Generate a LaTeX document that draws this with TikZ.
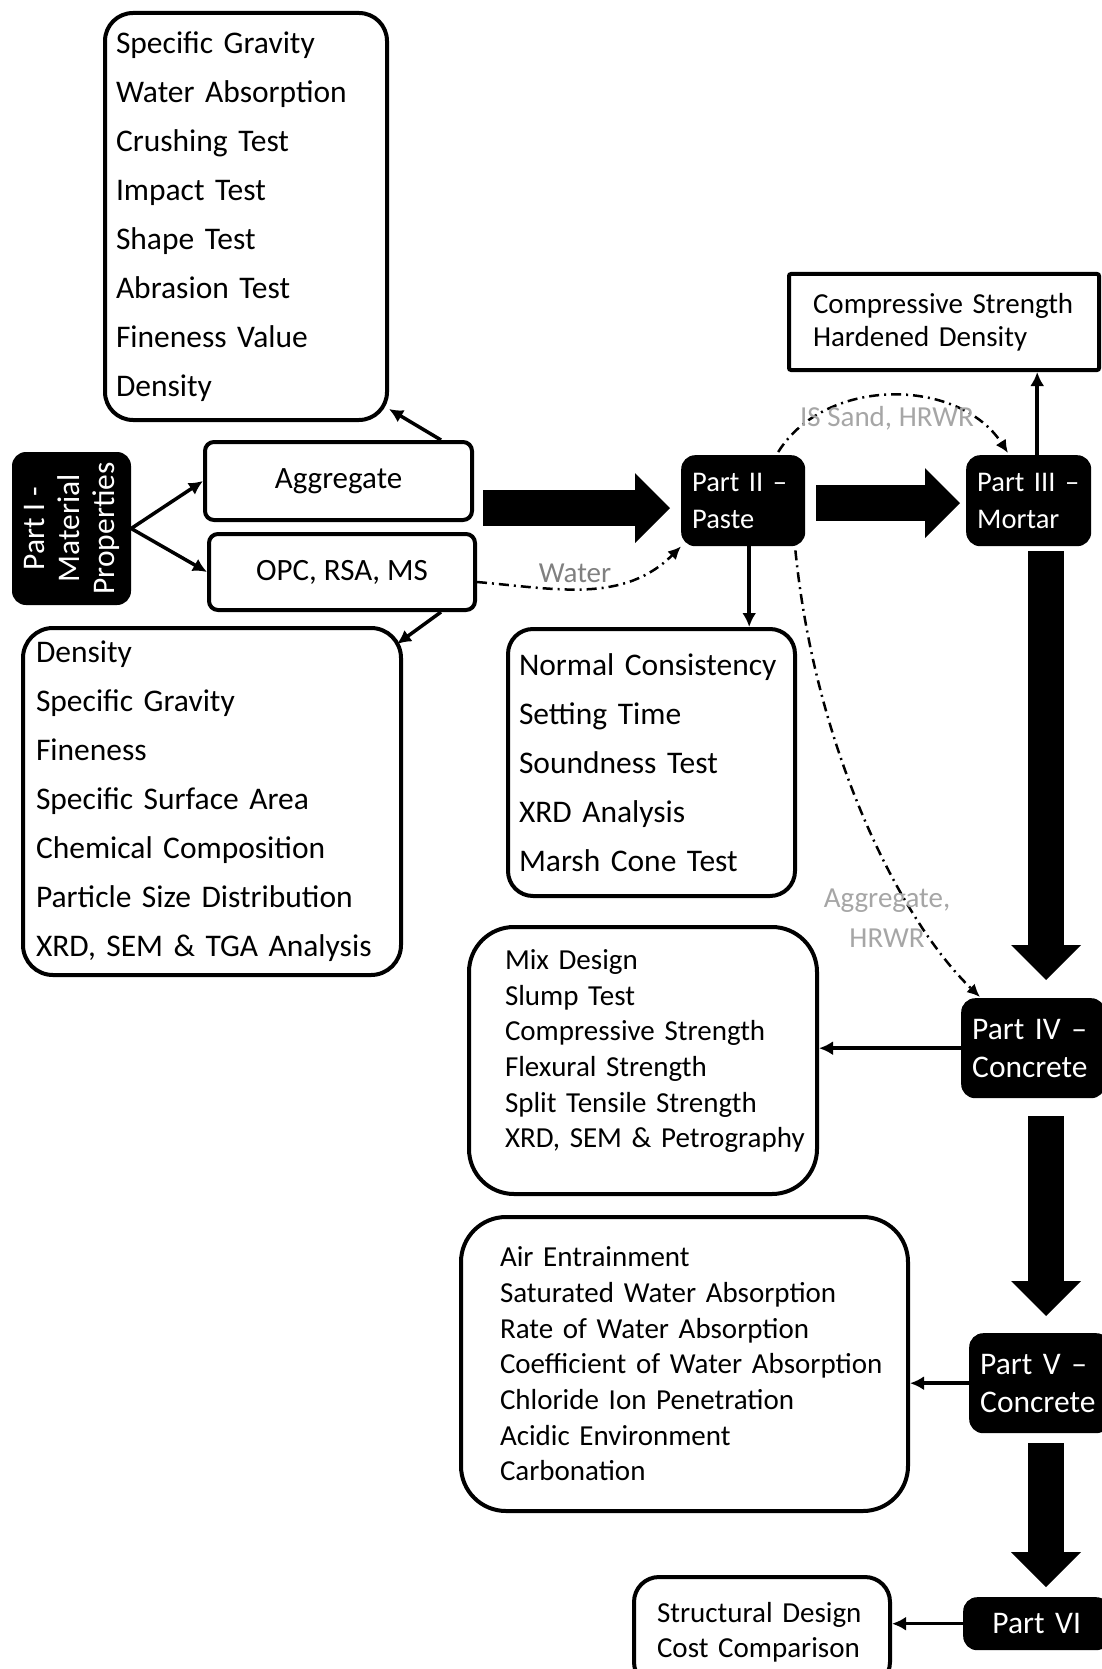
\documentclass[tikz,border=0pt]{standalone}
\usepackage{fontspec}
\setmainfont{Carlito}
\usetikzlibrary{arrows.meta,positioning,calc}
\definecolor{FeedGray}{HTML}{A6A6A6}
\definecolor{WaterGray}{HTML}{808080}
\newcommand{\listfont}{\fontsize{31.5}{49}\selectfont}
\newcommand{\tightfont}{\fontsize{29}{35.7}\selectfont}
\newcommand{\partfont}{\fontsize{31.5}{38}\selectfont}
\tikzset{
  listbox/.style={draw, line width=4pt, rounded corners=28pt, anchor=north west, align=left, inner ysep=0pt, font=\listfont},
  inbox/.style={draw, line width=4pt, rounded corners=9pt, anchor=north west, font=\fontsize{31}{37}\selectfont},
  partbox/.style={fill=black, text=white, rounded corners=14pt, anchor=north west, align=left, inner xsep=11pt, inner ysep=0pt, font=\partfont},
  arr/.style={-{Latex[length=14pt,width=14pt]}, line width=3.5pt},
  fatarr/.style={-{Triangle[length=35pt,width=70pt,line width=0pt]}, line width=36pt},
  feed/.style={-{Latex[length=13pt,width=12pt]}, line width=2.5pt, dash pattern=on 10pt off 5pt on 2pt off 5pt},
  feedlabel/.style={text=FeedGray, font=\fontsize{29}{40}\selectfont, align=center}
}
\begin{document}
\begin{tikzpicture}[x=1pt,y=-1pt]
\useasboundingbox (0,0) rectangle (1101,1669);

\node[partbox, anchor=center, rotate=90, align=center, inner xsep=0pt, minimum width=153pt, minimum height=119pt, font=\fontsize{31.5}{35}\selectfont] (part1) at (71.5,528.5) {Part I -\\Material\\Properties};
\node[inbox, minimum width=267pt, minimum height=78pt] (agg) at (203,440) {Aggregate};
\node[inbox, minimum width=266pt, minimum height=76pt] (opc) at (207,532) {OPC, RSA, MS};
\node[listbox, inner xsep=11pt, text width=260pt, minimum height=407pt] (aggtests) at (103,11) {Specific Gravity\\Water Absorption\\Crushing Test\\Impact Test\\Shape Test\\Abrasion Test\\Fineness Value\\Density};
\node[listbox, rounded corners=30pt, inner xsep=13pt, text width=352pt, minimum height=347pt] (mattests) at (21,626) {Density\\Specific Gravity\\Fineness\\Specific Surface Area\\Chemical Composition\\Particle Size Distribution\\XRD, SEM \& TGA Analysis};

\node[partbox, text width=102pt, minimum height=91pt, font=\fontsize{28.5}{37}\selectfont] (part2) at (681,455) {\mbox{Part II --}\\Paste};
\node[partbox, text width=103pt, minimum height=91pt, font=\fontsize{28.5}{37}\selectfont] (part3) at (966,455) {\mbox{Part III --}\\Mortar};
\node[listbox, rounded corners=2pt, inner xsep=24pt, text width=262pt, minimum height=96pt, font=\fontsize{29}{33}\selectfont] (cstests) at (787,272) {\mbox{Compressive Strength}\\Hardened Density};
\node[listbox, rounded corners=25pt, inner xsep=11pt, text width=265pt, minimum height=267pt] (pastetests) at (506,627) {\mbox{Normal Consistency}\\Setting Time\\Soundness Test\\XRD Analysis\\Marsh Cone Test};

\node[partbox, text width=122pt, minimum height=100pt] (part4) at (961,998) {\mbox{Part IV --}\\Concrete};
\node[listbox, rounded corners=45pt, inner xsep=36pt, text width=276pt, text depth=202pt, minimum height=267pt, font=\tightfont] (concretetests) at (467,925) {Mix Design\\Slump Test\\Compressive Strength\\Flexural Strength\\Split Tensile Strength\\\mbox{XRD, SEM \& Petrography}};
\node[partbox, text width=119pt, minimum height=100pt] (part5) at (969,1333) {\mbox{Part V --}\\Concrete};
\node[listbox, rounded corners=45pt, inner xsep=39pt, text width=369pt, minimum height=294pt, font=\tightfont] (durtests) at (459,1215) {Air Entrainment\\Saturated Water Absorption\\Rate of Water Absorption\\\mbox{Coefficient of Water Absorption}\\Chloride Ion Penetration\\Acidic Environment\\Carbonation};
\node[partbox, align=center, inner xsep=0pt, text width=147pt, minimum height=53pt] (part6) at (963,1597) {Part VI};
\node[listbox, rounded corners=25pt, inner xsep=23pt, text width=210pt, minimum height=110pt, font=\fontsize{29}{35}\selectfont] (designtests) at (632,1575) {Structural Design\\Cost Comparison};

\draw[arr] (part1.south) -- (agg.west);
\draw[arr] (part1.south) -- (opc.west);
\draw[arr] ([xshift=-33pt]agg.north east) -- ([yshift=13pt]aggtests.south east);
\draw[arr] ([xshift=-36pt]opc.south east) -- ([xshift=-6pt,yshift=-18pt]mattests.north east);

\coordinate (spine) at (1046,0);
\draw[fatarr] ($(agg.east |- part2.west)+(9,7.5)$) -- ($(part2.west)+(-11,7.5)$);
\draw[fatarr] ($(part2.east)+(11,2.5)$) -- ($(part3.west)+(-6,2.5)$);
\draw[fatarr] ($(spine |- part3.south)+(0,5)$) -- ($(spine |- part4.north)+(0,-18)$);
\draw[fatarr] ($(spine |- part4.south)+(0,18)$) -- ($(spine |- part5.north)+(0,-17)$);
\draw[fatarr] ($(spine |- part5.south)+(0,10)$) -- ($(spine |- part6.north)+(0,-10)$);

\coordinate (pastedrop) at ($(part2.south)+(6,0)$);
\coordinate (mortarrise) at ($(part3.north)+(8.5,0)$);
\draw[arr] (pastedrop) -- (pastedrop |- pastetests.north);
\draw[arr] (mortarrise) -- (mortarrise |- cstests.south);
\draw[arr] (part4.west) -- (concretetests.east |- part4.west);
\draw[arr] (part5.west) -- (durtests.east |- part5.west);
\draw[arr] (part6.west) -- (designtests.east |- part6.west);

\draw[feed] ($(opc.east)+(0,10)$) to[out=-5,in=225] (part2.south west);
\draw[feed] ($(part2.north)+(35,-3)$) to[out=58,in=123] ($(part3.north west)+(42,-2)$);
\draw[feed] ($(part2.south east)+(-10,4)$) .. controls +(20,200) and +(-80,-77) .. ($(part4.north west)+(19,-1)$);
\node[feedlabel, text=WaterGray] (waterlabel) at (575,573) {Water};
\node[feedlabel] (sandlabel) at (887,418) {IS Sand, HRWR};
\node[feedlabel] (aggrlabel) at (887,918) {Aggregate,\\HRWR};
\end{tikzpicture}
\end{document}
